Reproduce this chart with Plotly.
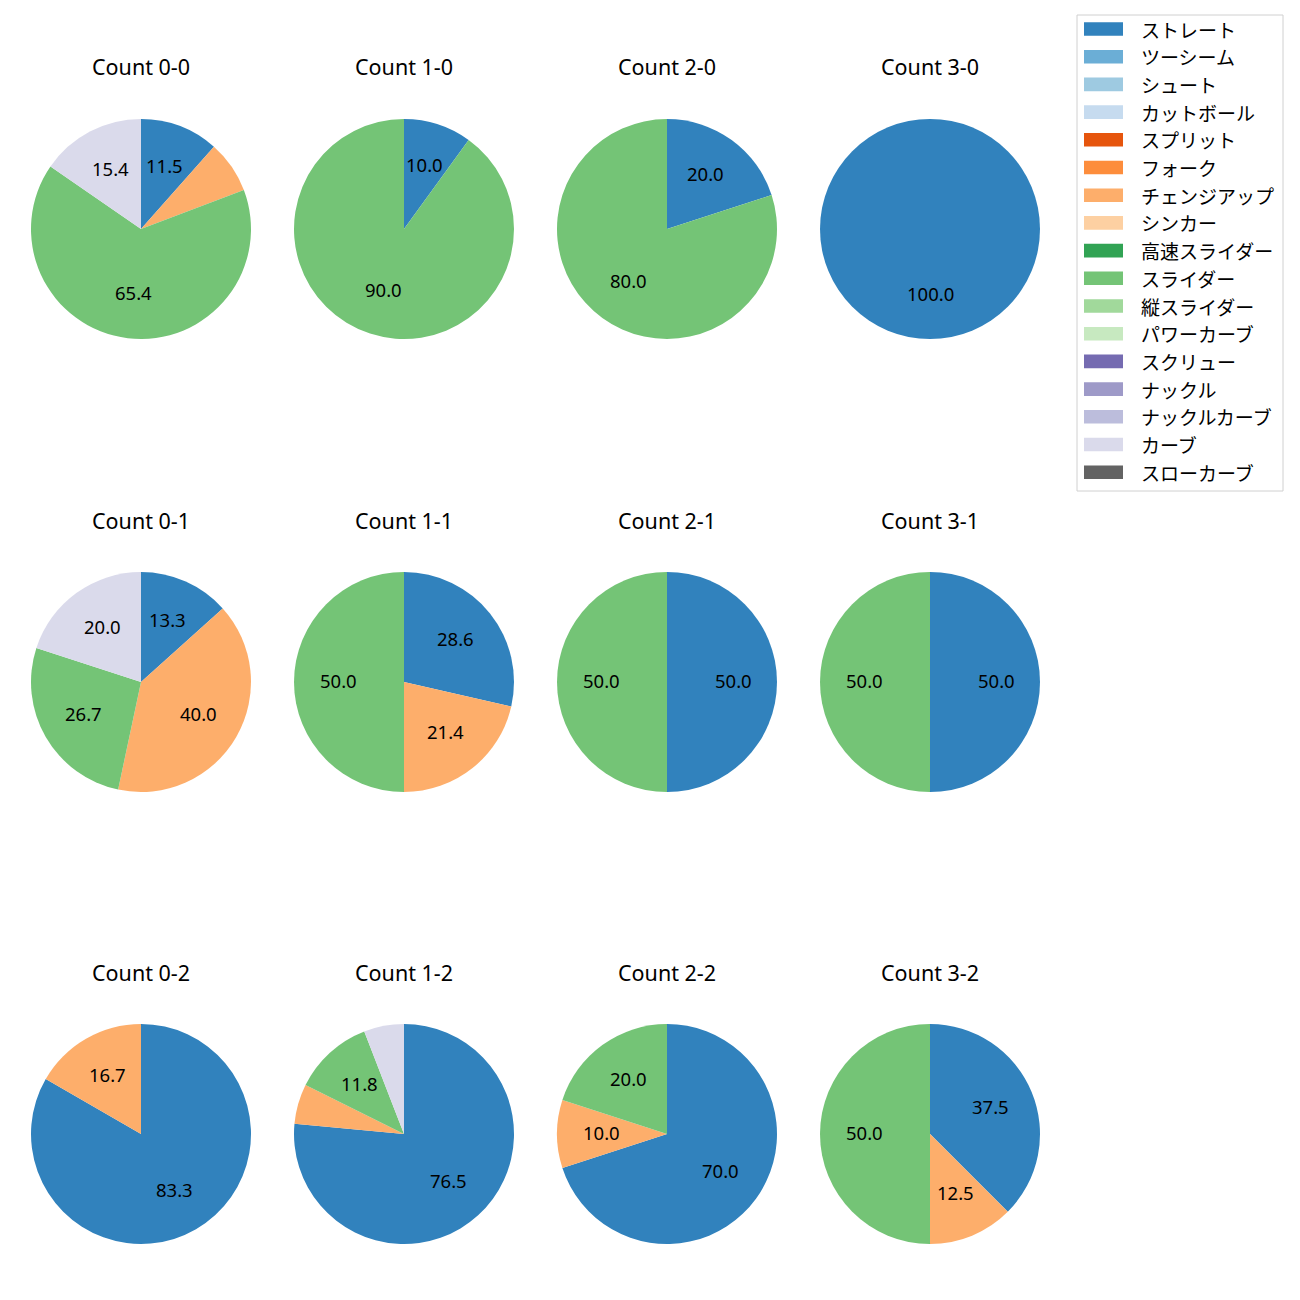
import math
import plotly.graph_objects as go

# ---- data ----
pitch_types = ["ストレート", "ツーシーム", "シュート", "カットボール", "スプリット", "フォーク",
               "チェンジアップ", "シンカー", "高速スライダー", "スライダー", "縦スライダー",
               "パワーカーブ", "スクリュー", "ナックル", "ナックルカーブ", "カーブ", "スローカーブ"]
pitch_colors = ["#3182bd", "#6baed6", "#9ecae1", "#c6dbef", "#e6550d", "#fd8d3c",
                "#fdae6b", "#fdd0a2", "#31a354", "#74c476", "#a1d99b", "#c7e9c0",
                "#756bb1", "#9e9ac8", "#bcbddc", "#dadaeb", "#636363"]

count_titles = ["Count 0-0", "Count 1-0", "Count 2-0", "Count 3-0",
                "Count 0-1", "Count 1-1", "Count 2-1", "Count 3-1",
                "Count 0-2", "Count 1-2", "Count 2-2", "Count 3-2"]

# pitch counts per ball-strike count (pitch type -> number of pitches)
count_00 = {"ストレート": 3, "チェンジアップ": 2, "スライダー": 17, "カーブ": 4}
count_10 = {"ストレート": 1, "スライダー": 9}
count_20 = {"ストレート": 1, "スライダー": 4}
count_30 = {"ストレート": 1}
count_01 = {"ストレート": 2, "チェンジアップ": 6, "スライダー": 4, "カーブ": 3}
count_11 = {"ストレート": 4, "チェンジアップ": 3, "スライダー": 7}
count_21 = {"ストレート": 1, "スライダー": 1}
count_31 = {"ストレート": 1, "スライダー": 1}
count_02 = {"ストレート": 5, "チェンジアップ": 1}
count_12 = {"ストレート": 13, "チェンジアップ": 1, "スライダー": 2, "カーブ": 1}
count_22 = {"ストレート": 7, "チェンジアップ": 1, "スライダー": 2}
count_32 = {"ストレート": 3, "チェンジアップ": 1, "スライダー": 4}

all_counts = [count_00, count_10, count_20, count_30,
              count_01, count_11, count_21, count_31,
              count_02, count_12, count_22, count_32]

# ---- layout geometry (pixels, page coords; page body has an 8px margin) ----
W = H = 1300
OFF = 8
col_cx = [141, 404, 667, 930]
row_cy = [229, 682, 1134]
R = 110
FONT_JP = "Noto Sans CJK JP"
FONT_LAT = "Noto Sans"


def px(x):
    return (x - OFF) / W


def py(y):
    return 1 - (y - OFF) / H


fig = go.Figure()
annotations = []
shapes = []

for i, (title, cnt) in enumerate(zip(count_titles, all_counts)):
    r, c = divmod(i, 4)
    cx, cy = col_cx[c], row_cy[r]
    labels = [p for p in pitch_types if cnt.get(p, 0) > 0]
    values = [cnt[p] for p in labels]
    colors = [pitch_colors[pitch_types.index(p)] for p in labels]
    total = sum(values)
    fig.add_trace(go.Pie(
        labels=labels, values=values, sort=False, direction="clockwise", rotation=0,
        marker=dict(colors=colors, line=dict(width=0)),
        textinfo="none", hoverinfo="label+percent", showlegend=False,
        domain=dict(x=[px(cx - R), px(cx + R)], y=[py(cy + R), py(cy - R)]),
    ))
    # percentage labels at 0.6 radius, mid-angle of each slice
    cum = 0
    for v in values:
        pct = v / total * 100
        mid = (cum + v / 2) / total * 2 * math.pi
        cum += v
        if pct < 10:
            continue
        tx = cx + 0.6 * R * math.sin(mid)
        ty = cy - 0.6 * R * math.cos(mid)
        annotations.append(dict(
            x=px(tx), y=py(ty - 2), xref="paper", yref="paper", text=f"{pct:.1f}",
            showarrow=False, xanchor="center", yanchor="middle",
            font=dict(family=FONT_LAT, size=18.5, color="black")))
    annotations.append(dict(
        x=px(cx), y=py(cy - 162), xref="paper", yref="paper", text=title,
        showarrow=False, xanchor="center", yanchor="middle",
        font=dict(family=FONT_LAT, size=21.5, color="black")))

# ---- legend (drawn manually to match spacing) ----
lx0, lx1, ly0, ly1 = 1077, 1283, 15, 491
shapes.append(dict(type="rect", xref="paper", yref="paper",
                   x0=px(lx0), x1=px(lx1), y0=py(ly1), y1=py(ly0),
                   line=dict(color="#d0d0d0", width=1), fillcolor="white", layer="below"))
for k, (name, col) in enumerate(zip(pitch_types, pitch_colors)):
    yc = 29 + k * 27.7
    shapes.append(dict(type="rect", xref="paper", yref="paper",
                       x0=px(1084), x1=px(1123), y0=py(yc + 6.8), y1=py(yc - 6.8),
                       line=dict(width=0), fillcolor=col))
    annotations.append(dict(
        x=px(1139), y=py(yc), xref="paper", yref="paper", text=name,
        showarrow=False, xanchor="left", yanchor="middle",
        font=dict(family=FONT_JP, size=19, color="black")))

fig.update_layout(
    width=W, height=H, margin=dict(l=0, r=0, t=0, b=0),
    paper_bgcolor="white", plot_bgcolor="white",
    annotations=annotations, shapes=shapes, showlegend=False,
)
fig.write_html("out.html")
